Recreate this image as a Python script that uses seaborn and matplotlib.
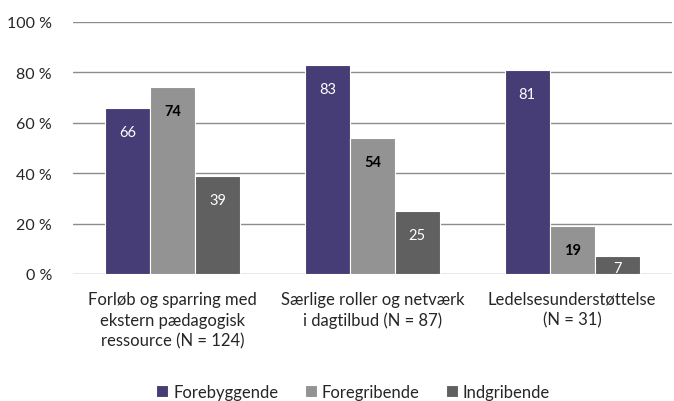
import pandas as pd
import matplotlib
matplotlib.use("Agg")
import matplotlib.pyplot as plt
import seaborn as sns

sns.set_style("white")
plt.rcParams["font.family"] = ["Lato", "DejaVu Sans"]

categories = ["Forløb og sparring med\nekstern pædagogisk\nressource (N = 124)",
              "Særlige roller og netværk\ni dagtilbud (N = 87)",
              "Ledelsesunderstøttelse\n(N = 31)"]
series = ["Forebyggende", "Foregribende", "Indgribende"]
forebyggende = [66, 83, 81]
foregribende = [74, 54, 19]
indgribende = [39, 25, 7]
colors = ["#41337F", "#939393", "#606060"]
label_colors = ["white", "black", "white"]

rows = []
for s, vals in zip(series, [forebyggende, foregribende, indgribende]):
    for c, v in zip(categories, vals):
        rows.append({"kategori": c, "type": s, "pct": v})
df = pd.DataFrame(rows)

fig = plt.figure(figsize=(6.74, 4.02), dpi=100)
ax = fig.add_axes([0.108, 0.316, 0.889, 0.627])
sns.barplot(data=df, x="kategori", y="pct", hue="type", palette=colors,
            width=0.675, gap=0, edgecolor="white", linewidth=0.8, ax=ax)

for cont, lc in zip(ax.containers, label_colors):
    for bar in cont:
        v = bar.get_height()
        ax.text(bar.get_x() + bar.get_width() / 2, max(v - 9.5, 2.2), f"{v:.0f}",
                ha="center", va="center", color=lc, fontsize=10.5,
                fontweight="bold" if lc == "black" else "normal")

ax.set_ylim(0, 100)
ax.set_yticks(range(0, 101, 20))
ax.set_yticklabels([f"{t} %" for t in range(0, 101, 20)], fontsize=11.5)
ax.yaxis.grid(True, color="#8c8c8c", linewidth=1)
ax.set_axisbelow(True)
for sp in ax.spines.values():
    sp.set_visible(False)
ax.tick_params(axis="y", length=0, pad=15)
ax.tick_params(axis="x", length=0, pad=12, labelsize=12)
for lab in ax.get_xticklabels():
    lab.set_multialignment("center")
    lab.set_linespacing(1.38)
ax.set_xlabel("")
ax.set_ylabel("")

ax.legend(loc="center", bbox_to_anchor=(0.468, -0.468), ncol=3, frameon=False,
          fontsize=12, handlelength=0.7, handleheight=0.7, handletextpad=0.3,
          columnspacing=1.6)

fig.savefig("out.png", dpi=100)
